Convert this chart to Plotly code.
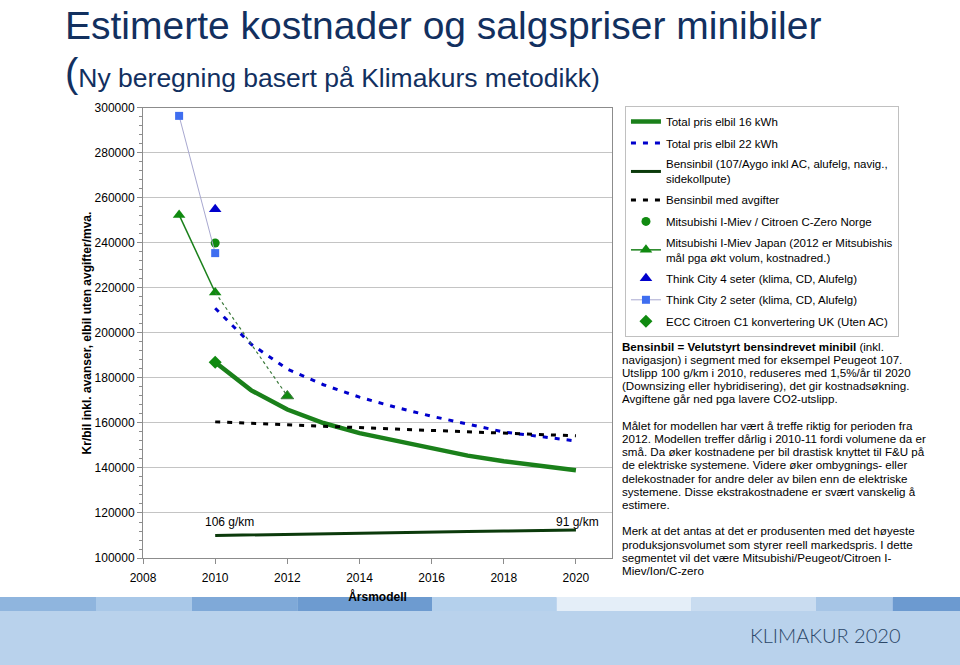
import plotly.graph_objects as go

years = [2010, 2011, 2012, 2013, 2014, 2015, 2016, 2017, 2018, 2019, 2020]
elbil_16 = [187000, 174500, 166000, 160000, 155500, 152000, 148500, 145500, 143000, 141000, 139000]
elbil_22 = [211000, 195000, 184000, 177000, 171500, 167000, 163000, 159500, 156000, 154000, 152000]
bensin = [110000, 110300, 110500, 110800, 111000, 111300, 111500, 111800, 112000, 112300, 112500]
bensin_avg = [160500, 159800, 159100, 158500, 157900, 157300, 156700, 156100, 155500, 154900, 154300]

norge_x = [2010]
norge_y = [240000]
japan_x = [2009, 2010]
japan_y = [252500, 218000]
japan_mal_x = [2010, 2012]
japan_mal_y = [218000, 172000]
think4_x = [2010]
think4_y = [255000]
think2_x = [2009, 2010]
think2_y = [296500, 235500]
ecc_x = [2010]
ecc_y = [187000]

names = [
    "Total pris elbil 16 kWh",
    "Total pris elbil 22 kWh",
    "Bensinbil (107/Aygo inkl AC, alufelg, navig.,<br>sidekollpute)",
    "Bensinbil med avgifter",
    "Mitsubishi I-Miev / Citroen C-Zero Norge",
    "Mitsubishi I-Miev Japan (2012 er Mitsubishis<br>mål pga økt volum, kostnadred.)",
    "Think City 4 seter (klima, CD, Alufelg)",
    "Think City 2 seter (klima, CD, Alufelg)",
    "ECC Citroen C1 konvertering UK (Uten AC)",
]

note_lines = [
    "<b>Bensinbil = Velutstyrt bensindrevet minibil</b> (inkl.",
    "navigasjon) i segment med for eksempel Peugeot 107.",
    "Utslipp 100 g/km i 2010, reduseres med 1,5%/år til 2020",
    "(Downsizing eller hybridisering), det gir kostnadsøkning.",
    "Avgiftene går ned pga lavere CO2-utslipp.",
    "",
    "Målet for modellen har vært å treffe riktig for perioden fra",
    "2012. Modellen treffer dårlig i 2010-11 fordi volumene da er",
    "små. Da øker kostnadene per bil drastisk knyttet til F&U på",
    "de elektriske systemene. Videre øker ombygnings- eller",
    "delekostnader for andre deler av bilen enn de elektriske",
    "systemene. Disse ekstrakostnadene er svært vanskelig å",
    "estimere.",
    "",
    "Merk at det antas at det er produsenten med det høyeste",
    "produksjonsvolumet som styrer reell markedspris. I dette",
    "segmentet vil det være Mitsubishi/Peugeot/Citroen I-",
    "Miev/Ion/C-zero",
]

GREEN = "#1a801a"
fig = go.Figure()
fig.add_trace(go.Scatter(x=years, y=elbil_16, mode="lines", name=names[0],
                         line=dict(color=GREEN, width=4.5), legendgroup="a"))
fig.add_trace(go.Scatter(x=years, y=elbil_22, mode="lines", name=names[1],
                         line=dict(color="#0000cc", width=3, dash="5px,7px"), legendgroup="b"))
fig.add_trace(go.Scatter(x=years, y=bensin, mode="lines", name=names[2],
                         line=dict(color="#0b3a0b", width=3), legendgroup="c"))
fig.add_trace(go.Scatter(x=years, y=bensin_avg, mode="lines", name=names[3],
                         line=dict(color="#000000", width=3, dash="5px,7px"), legendgroup="d"))
fig.add_trace(go.Scatter(x=norge_x, y=norge_y, mode="markers", name=names[4],
                         marker=dict(symbol="circle", color="#108a10", size=9), legendgroup="e"))
fig.add_trace(go.Scatter(x=japan_x, y=japan_y, mode="lines+markers", name=names[5],
                         line=dict(color=GREEN, width=1.5),
                         marker=dict(symbol="triangle-up", color="#108a10", size=11), legendgroup="f"))
fig.add_trace(go.Scatter(x=japan_mal_x, y=japan_mal_y, mode="lines+markers", showlegend=False,
                         line=dict(color="#3c7a3c", width=1.2, dash="dot"),
                         marker=dict(symbol="triangle-up", color="#108a10", size=[0, 11], opacity=1),
                         legendgroup="f"))
fig.add_trace(go.Scatter(x=think4_x, y=think4_y, mode="markers", name=names[6],
                         marker=dict(symbol="triangle-up", color="#0000cc", size=11), legendgroup="g"))
fig.add_trace(go.Scatter(x=think2_x, y=think2_y, mode="lines+markers", name=names[7],
                         line=dict(color="#a8a8d0", width=1),
                         marker=dict(symbol="square", color="#3f6ef0", size=8), legendgroup="h"))
fig.add_trace(go.Scatter(x=ecc_x, y=ecc_y, mode="markers", name=names[8],
                         marker=dict(symbol="diamond", color="#108a10", size=10), legendgroup="i"))

font = "Liberation Sans, Arial, sans-serif"
navy = "#12305f"
H = 665.0

annotations = [
    dict(x=0.066, y=1 - 25.5 / H, xref="paper", yref="paper", xanchor="left", yanchor="middle",
         text="Estimerte kostnader og salgspriser minibiler", showarrow=False,
         font=dict(family=font, size=39, color=navy)),
    dict(x=0.066, y=1 - 73 / H, xref="paper", yref="paper", xanchor="left", yanchor="middle",
         text="<span style='font-size:40px'>(</span>Ny beregning basert på Klimakurs metodikk)",
         showarrow=False, font=dict(family=font, size=26.5, color=navy)),
    dict(x=2010.4, y=116000, xref="x", yref="y", text="106 g/km", showarrow=False,
         font=dict(family=font, size=12, color="#000000")),
    dict(x=2020.05, y=116000, xref="x", yref="y", text="91 g/km", showarrow=False,
         font=dict(family=font, size=12, color="#000000")),
    dict(x=0.86, y=1 - 635 / H, xref="paper", yref="paper", xanchor="center", yanchor="middle",
         text="KLIMAKUR 2020", showarrow=False,
         font=dict(family="Lato, Open Sans, sans-serif", size=20, color="#2b4768", weight=300)),
]
for i, line in enumerate(note_lines):
    if line:
        annotations.append(dict(x=0.646, y=1 - (346 + i * 13.2) / H, xref="paper", yref="paper",
                                xanchor="left", yanchor="middle", align="left", showarrow=False,
                                text=line, font=dict(family=font, size=11.6, color="#000000")))

# bottom banner (light blue with a mottled strip along its top edge)
band_top = 1 - 598 / H
strip_top = 1 - 597 / H
strip_bot = 1 - 611 / H
shapes = [dict(type="rect", xref="paper", yref="paper", x0=0, x1=1, y0=0, y1=band_top,
               fillcolor="#b9d2ec", line_width=0, layer="below")]
strip = [(0.00, 0.10, "#8fb5de"), (0.10, 0.20, "#a9c8e8"), (0.20, 0.31, "#7fa9d8"),
         (0.31, 0.45, "#6d9bd0"), (0.45, 0.58, "#b4d0ec"), (0.58, 0.72, "#e4eef8"),
         (0.72, 0.85, "#c9dcf0"), (0.85, 0.93, "#a6c5e6"), (0.93, 1.00, "#6c9ad0")]
for a, b, c in strip:
    shapes.append(dict(type="rect", xref="paper", yref="paper", x0=a, x1=b, y0=strip_bot, y1=strip_top,
                       fillcolor=c, line_width=0, layer="below"))

fig.update_layout(
    width=960, height=665,
    margin=dict(l=0, r=0, t=0, b=0, autoexpand=False),
    paper_bgcolor="white", plot_bgcolor="white",
    font=dict(family=font, size=12, color="#000000"),
    xaxis=dict(domain=[0.149, 0.6375], range=[2008, 2021], tick0=2008, dtick=2, automargin=False,
               showgrid=False, zeroline=False, showline=True, linecolor="#8c8c8c", mirror=True,
               ticks="outside", ticklen=5, tickcolor="#8c8c8c", ticklabelstandoff=4,
               tickfont=dict(size=12),
               title=dict(text="<b>Årsmodell</b>", font=dict(size=12), standoff=8)),
    yaxis=dict(domain=[0.1609, 0.8376], range=[100000, 300000], dtick=20000, tickformat="d",
               automargin=False,
               showgrid=True, gridcolor="#c4c4c4", gridwidth=1, zeroline=False,
               showline=True, linecolor="#8c8c8c", mirror=True,
               ticks="outside", ticklen=5, tickcolor="#8c8c8c", tickfont=dict(size=12),
               minor=dict(dtick=4000, ticks="outside", ticklen=3, tickcolor="#8c8c8c", showgrid=False),
               title=dict(text="<b>Kr/bil inkl. avanser, elbil uten avgifter/mva.</b>",
                          font=dict(size=12), standoff=0)),
    legend=dict(x=0.651, y=1 - 106 / H, xanchor="left", yanchor="top",
                bordercolor="#c0c0c0", borderwidth=1, bgcolor="white",
                font=dict(family=font, size=11.5), tracegroupgap=2.5, traceorder="grouped"),
    annotations=annotations,
    shapes=shapes,
)

fig.write_html("out.html", config={"displayModeBar": False},
               post_script="document.body.style.margin='0px';")
